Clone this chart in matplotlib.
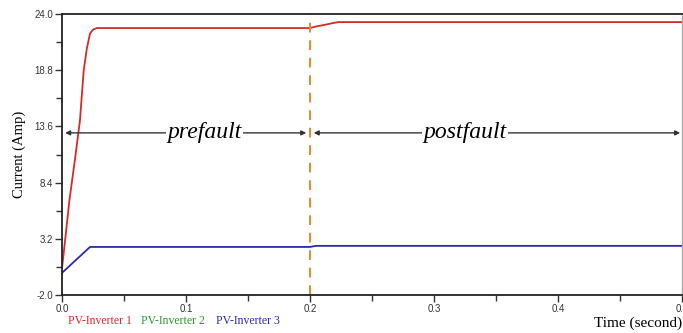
import matplotlib
matplotlib.use('Agg')
import matplotlib.pyplot as plt
from matplotlib.ticker import FixedLocator

# values
t_red = [0.0, 0.003, 0.006, 0.0105, 0.0145, 0.0175, 0.02, 0.0226, 0.025, 0.028, 0.2, 0.205, 0.212, 0.218, 0.223, 0.5]
i_red = [0.5, 3.6, 6.8, 10.6, 14.2, 18.8, 20.8, 22.2, 22.55, 22.7, 22.7, 22.85, 23.0, 23.15, 23.25, 23.25]

t_blue = [0.0, 0.0226, 0.2, 0.205, 0.5]
i_blue = [0.05, 2.45, 2.45, 2.55, 2.55]

y_ticks = [-2.0, 3.2, 8.4, 13.6, 18.8, 24.0]
x_ticks = [0.0, 0.1, 0.2, 0.3, 0.4, 0.5]
fault_time = 0.2
arrow_level = 13.0

series_names = ['PV-Inverter 1', 'PV-Inverter 2', 'PV-Inverter 3']
series_colors = ['#d42a2a', '#2a9a2a', '#2a2aa8']

fig = plt.figure(figsize=(6.83, 3.33), dpi=100)
ax = fig.add_axes([0.0908, 0.114, 0.9077, 0.844])

ax.plot(t_red, i_red, color=series_colors[0], lw=1.3)
ax.plot(t_blue, i_blue, color=series_colors[2], lw=1.3)
ax.axvline(fault_time, color='#e08a2e', lw=1.4, ls=(0, (5, 4)))

ax.set_xlim(0, 0.5)
ax.set_ylim(-2.0, 24.0)
ax.set_yticks(y_ticks)
ax.set_yticklabels(['%.1f' % v for v in y_ticks])
ax.set_xticks(x_ticks)
ax.set_xticklabels(['%.1f' % v for v in x_ticks])
ax.yaxis.set_minor_locator(FixedLocator([(a + b) / 2 for a, b in zip(y_ticks[:-1], y_ticks[1:])]))
ax.xaxis.set_minor_locator(FixedLocator([(a + b) / 2 for a, b in zip(x_ticks[:-1], x_ticks[1:])]))
ax.tick_params(axis='both', which='both', direction='out', labelsize=7,
               colors='#333333', labelcolor='#333333', pad=1.5)
ax.tick_params(which='major', length=5, width=1)
ax.tick_params(which='minor', length=4, width=1)
for lab in ax.get_xticklabels() + ax.get_yticklabels():
    lab.set_family('Liberation Sans')

for s in ['top', 'bottom', 'left']:
    ax.spines[s].set_color('#222222')
    ax.spines[s].set_linewidth(1.3)
ax.spines['right'].set_color('#aaaaaa')
ax.spines['right'].set_linewidth(1.0)

# region arrows
arrow_kw = dict(arrowstyle='<|-|>', color='#333333', lw=1.0,
                mutation_scale=7, shrinkA=0, shrinkB=0)
ax.annotate('', xy=(0.0025, arrow_level), xytext=(fault_time - 0.003, arrow_level),
            arrowprops=arrow_kw)
ax.annotate('', xy=(fault_time + 0.003, arrow_level), xytext=(0.4985, arrow_level),
            arrowprops=arrow_kw)
ax.text(0.115, arrow_level, 'prefault', fontsize=17, style='italic',
        family='Liberation Serif', ha='center', va='center',
        bbox=dict(facecolor='white', edgecolor='none', pad=1.0))
ax.text(0.325, arrow_level, 'postfault', fontsize=17, style='italic',
        family='Liberation Serif', ha='center', va='center',
        bbox=dict(facecolor='white', edgecolor='none', pad=1.0))

ax.set_ylabel('Current (Amp)', fontsize=10.5, family='Liberation Serif', labelpad=6)

# legend-like labels under the axis
x_pos = [0.099, 0.207, 0.316]
for name, col, xp in zip(series_names, series_colors, x_pos):
    fig.text(xp, 0.027, name, color=col, fontsize=8.5, family='Liberation Serif')

fig.text(0.998, 0.01, 'Time (second)', fontsize=11, family='Liberation Serif',
         ha='right', va='bottom')

fig.savefig('out.png', dpi=100)
